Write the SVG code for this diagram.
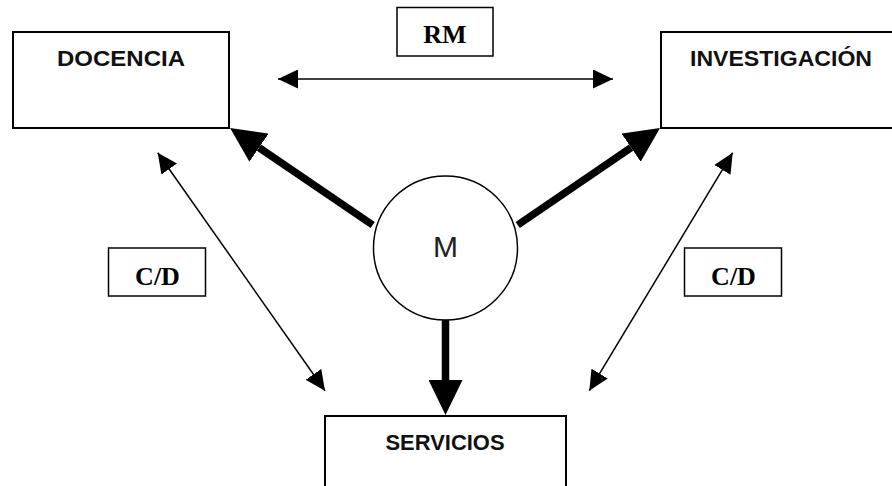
<svg xmlns="http://www.w3.org/2000/svg" width="892" height="486" viewBox="0 0 892 486">
<style>
.box{fill:#fff;stroke:#000;stroke-width:2}
.lbl{fill:#fff;stroke:#000;stroke-width:1.5}
.t{font-family:"Liberation Sans",Arial,sans-serif;font-size:22.5px;font-weight:bold;text-anchor:middle;fill:#111}
.s{font-family:"Liberation Serif","Times New Roman",serif;font-size:26px;font-weight:bold;text-anchor:middle;fill:#000}
.m{font-family:"Liberation Sans",Arial,sans-serif;font-size:30px;text-anchor:middle;fill:#222}
.thin{stroke:#000;stroke-width:1.5;fill:none}
.thick{stroke:#000;stroke-width:7.5;fill:none}
</style>
<defs>
<marker id="ah" markerUnits="userSpaceOnUse" markerWidth="20" markerHeight="19" refX="20" refY="9.5" orient="auto-start-reverse" viewBox="0 0 20 19"><path d="M0,0 L20,9.5 L0,19 z" fill="#000"/></marker>
<marker id="bh" markerUnits="userSpaceOnUse" markerWidth="35" markerHeight="34" refX="0" refY="17" orient="auto" viewBox="0 0 35 34"><path d="M0,0 L35,17 L0,34 z" fill="#000"/></marker>
</defs>
<g id="docencia"><rect class="box" x="13" y="32" width="216" height="96"/><text class="t" x="121" y="66" textLength="128" lengthAdjust="spacingAndGlyphs">DOCENCIA</text></g>
<g id="investigacion"><rect class="box" x="661" y="32" width="240" height="96"/><text class="t" x="781" y="66" textLength="182" lengthAdjust="spacingAndGlyphs">INVESTIGACIÓN</text></g>
<g id="servicios"><rect class="box" x="325" y="416" width="241" height="90"/><text class="t" x="445" y="450" textLength="119" lengthAdjust="spacingAndGlyphs">SERVICIOS</text></g>
<g id="m"><circle cx="445.5" cy="248" r="72" fill="#fff" stroke="#000" stroke-width="1.5"/><text class="m" x="445.5" y="257">M</text></g>
<g id="rm"><rect class="lbl" x="397" y="7.5" width="96" height="48.5"/><text class="s" x="445" y="43">RM</text></g>
<g id="cd-left"><rect class="lbl" x="108.5" y="248" width="97" height="48"/><text class="s" x="157.5" y="284.5">C/D</text></g>
<g id="cd-right"><rect class="lbl" x="684.5" y="248" width="97" height="48"/><text class="s" x="733.5" y="284.5">C/D</text></g>
<g id="connectors">
<line class="thin" x1="278" y1="79" x2="613" y2="79" marker-start="url(#ah)" marker-end="url(#ah)"/>
<line class="thin" x1="157.7" y1="152.7" x2="325" y2="390.7" marker-start="url(#ah)" marker-end="url(#ah)"/>
<line class="thin" x1="732.7" y1="152.7" x2="589.3" y2="390.7" marker-start="url(#ah)" marker-end="url(#ah)"/>
<line class="thick" x1="372.7" y1="225" x2="259" y2="147.6" marker-end="url(#bh)"/>
<line class="thick" x1="517.7" y1="225" x2="631.1" y2="147.7" marker-end="url(#bh)"/>
<line class="thick" x1="445.5" y1="320" x2="445.5" y2="380" marker-end="url(#bh)"/>
</g>
</svg>
